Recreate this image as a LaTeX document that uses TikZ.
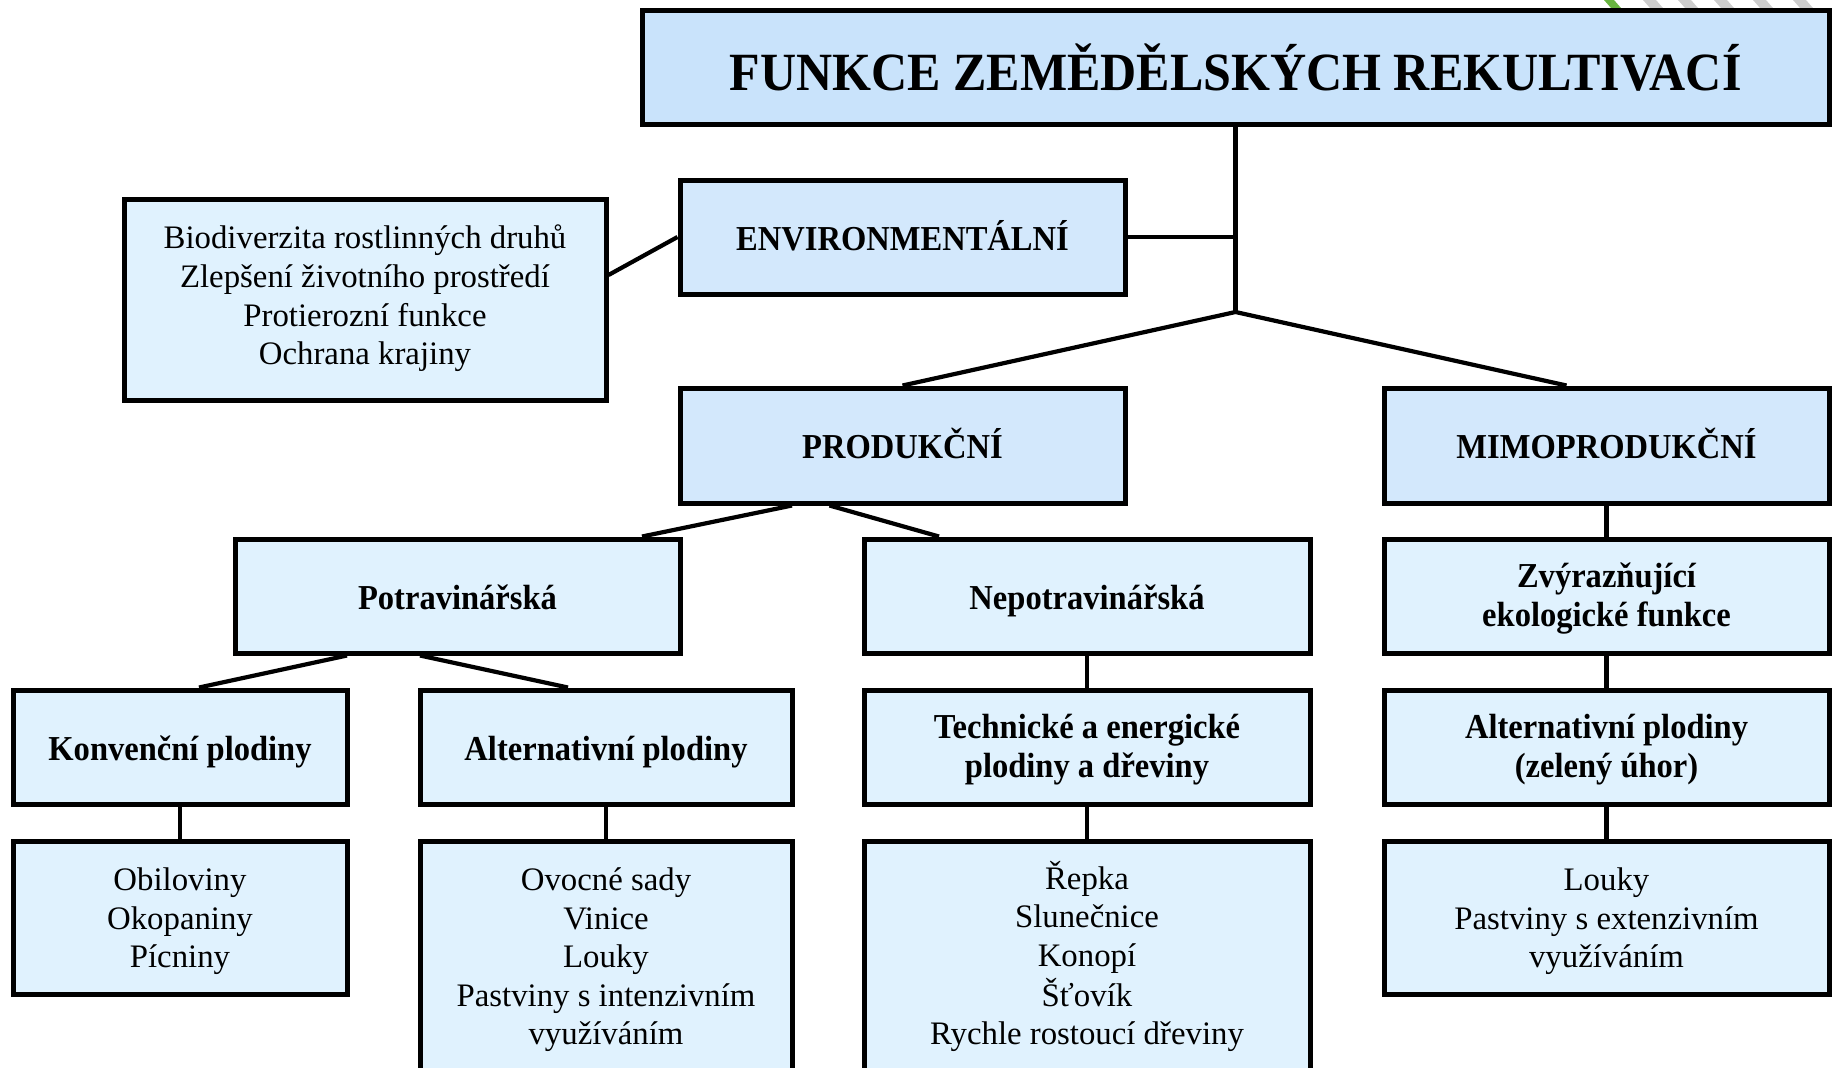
\documentclass[tikz,border=0pt]{standalone}
\usepackage{fontspec}
\setmainfont{Liberation Serif}
\newfontfamily\condserif{Liberation Serif}[FakeStretch=0.93]
\usetikzlibrary{calc}

\definecolor{topfill}{RGB}{201,227,251}
\definecolor{midfill}{RGB}{211,232,252}
\definecolor{lowfill}{RGB}{224,242,254}
\definecolor{stripegray}{RGB}{205,205,205}
\definecolor{leafgreen}{RGB}{104,180,64}

% centred block of lines whose baseline is the last line
\newcommand{\textlines}[1]{\begin{tabular}[b]{@{}c@{}}#1\end{tabular}}

\tikzset{
  box/.style={draw=black, line width=2.5pt, rectangle, inner sep=0pt, text depth=0pt},
  titlebox/.style={box, fill=topfill, text height=23.6pt,
    font=\condserif\fontsize{26.9}{30}\selectfont\bfseries},
  mainbox/.style={box, fill=midfill, text height=13.3pt,
    font=\condserif\fontsize{17.5}{19.3}\selectfont\bfseries},
  subbox/.style={box, fill=lowfill, text height=13.3pt,
    font=\condserif\fontsize{17.5}{19.3}\selectfont\bfseries},
  twolines/.style={text height=30pt},
  listbox/.style={box, fill=lowfill, font=\fontsize{16.4}{19.3}\selectfont},
  conn/.style={line width=2.1pt},
}

\begin{document}
\begin{tikzpicture}[x=0.5pt, y=-0.5pt]
\useasboundingbox (0,0) rectangle (1834,1067);
\clip (0,0) rectangle (1834,1067);

% small striped strip along the top edge
\foreach \s in {1643,1678,1714,1753,1793}
  \fill[stripegray] (\s,0) -- (\s+13,0) -- (\s+20,8) -- (\s+7,8) -- cycle;
\fill[leafgreen] (1604,0) -- (1614,0) -- (1621,8) -- (1611,8) -- cycle;

% title
\node[titlebox, minimum width=593.5pt, minimum height=57pt] (title) at (1235.5,67)
  {FUNKCE ZEMĚDĚLSKÝCH REKULTIVACÍ};

% first level
\node[mainbox, minimum width=222.5pt, minimum height=57pt] (env) at (902.5,237) {ENVIRONMENTÁLNÍ};
\node[listbox, text height=65.1pt, minimum width=241pt, minimum height=100.5pt] (envlist) at (365,299.5)
  {\textlines{Biodiverzita rostlinných druhů\\Zlepšení životního prostředí\\Protierozní funkce\\Ochrana krajiny}};
\node[mainbox, minimum width=222.5pt, minimum height=57.5pt] (prod) at (902.5,445.5) {PRODUKČNÍ};
\node[mainbox, minimum width=222.5pt, minimum height=57.5pt] (mimo) at (1606.5,445.5) {MIMOPRODUKČNÍ};

% second level
\node[subbox, minimum width=222.5pt, minimum height=57pt] (pot) at (457.5,596) {Potravinářská};
\node[subbox, minimum width=223pt, minimum height=57pt] (nepot) at (1087,596) {Nepotravinářská};
\node[subbox, twolines, minimum width=222.5pt, minimum height=57pt] (zvyr) at (1606.5,596)
  {\textlines{Zvýrazňující\\ekologické funkce}};

% third level
\node[subbox, minimum width=167pt, minimum height=57pt] (konv) at (180,747) {Konvenční plodiny};
\node[subbox, minimum width=186pt, minimum height=57pt] (alt) at (606,747) {Alternativní plodiny};
\node[subbox, twolines, minimum width=223pt, minimum height=57pt] (tech) at (1087,747)
  {\textlines{Technické a energické\\plodiny a dřeviny}};
\node[subbox, twolines, minimum width=222.5pt, minimum height=57pt] (altz) at (1606.5,747)
  {\textlines{Alternativní plodiny\\(zelený úhor)}};

% lists of crops
\node[listbox, text height=50.3pt, minimum width=167pt, minimum height=76.5pt] (obil) at (180,917.5)
  {\textlines{Obiloviny\\Okopaniny\\Pícniny}};
\node[listbox, text height=88.9pt, minimum width=186pt, minimum height=115pt] (ovoc) at (606,956)
  {\textlines{Ovocné sady\\Vinice\\Louky\\Pastviny s intenzivním\\využíváním}};
\node[listbox, text height=88.9pt, minimum width=223pt, minimum height=115pt] (repka) at (1087,956)
  {\textlines{Řepka\\Slunečnice\\Konopí\\Šťovík\\Rychle rostoucí dřeviny}};
\node[listbox, text height=50.3pt, minimum width=222.5pt, minimum height=76.5pt] (louky) at (1606.5,917.5)
  {\textlines{Louky\\Pastviny s extenzivním\\využíváním}};

% connectors
\coordinate (J) at (1235.5,312);
\draw[conn] (title.south) -- (J);
\draw[conn] (env.east) -- (env.east -| title.south);
\draw[conn] (prod.north) -- (J) -- ($(mimo.north)+(-40,0)$);
\draw[conn] ($(envlist.east)+(0,-24.5)$) -- (env.west);
\draw[conn] ($(prod.south)+(-110.5,0)$) -- ($(pot.north)+(184.5,0)$);
\draw[conn] ($(prod.south)+(-73,0)$) -- ($(nepot.north)+(-148,0)$);
\draw[conn] (mimo.south) -- (zvyr.north);
\draw[conn] ($(pot.south)+(-110.5,0)$) -- ($(konv.north)+(19,0)$);
\draw[conn] ($(pot.south)+(-37.5,0)$) -- ($(alt.north)+(-38,0)$);
\draw[conn] (nepot.south) -- (tech.north);
\draw[conn] (zvyr.south) -- (altz.north);
\draw[conn] (konv.south) -- (obil.north);
\draw[conn] (alt.south) -- (ovoc.north);
\draw[conn] (tech.south) -- (repka.north);
\draw[conn] (altz.south) -- (louky.north);
\end{tikzpicture}
\end{document}
